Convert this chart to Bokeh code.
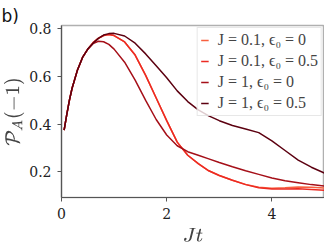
from bokeh.plotting import figure
from bokeh.models import Legend, LegendItem, Range1d, FixedTicker
from bokeh.embed import file_html
from bokeh.resources import INLINE

t = [0.05, 0.1, 0.15, 0.2, 0.3, 0.4, 0.5, 0.6, 0.7, 0.8, 0.9, 1.0, 1.2, 1.4, 1.6,
     1.8, 2.0, 2.2, 2.4, 2.6, 2.8, 3.0, 3.25, 3.5, 3.75, 4.0, 4.25, 4.5, 4.75, 5.0]

rise = [0.375, 0.44, 0.50, 0.55, 0.625, 0.68, 0.715]

j01_e0 = rise + [0.742, 0.760, 0.772, 0.776, 0.772, 0.745, 0.690, 0.605, 0.510, 0.415,
                 0.325, 0.270, 0.235, 0.205, 0.185, 0.165, 0.148, 0.136, 0.132, 0.134,
                 0.137, 0.136, 0.133]
j01_e05 = rise + [0.742, 0.760, 0.772, 0.776, 0.772, 0.745, 0.690, 0.605, 0.510, 0.415,
                  0.325, 0.270, 0.235, 0.205, 0.185, 0.165, 0.147, 0.134, 0.129, 0.129,
                  0.130, 0.127, 0.123]
j1_e0 = rise + [0.738, 0.748, 0.746, 0.735, 0.715, 0.660, 0.585, 0.500, 0.420, 0.355,
                0.310, 0.285, 0.270, 0.255, 0.240, 0.222, 0.205, 0.190, 0.175, 0.163,
                0.155, 0.147, 0.141]
j1_e05 = rise + [0.740, 0.760, 0.774, 0.780, 0.781, 0.770, 0.740, 0.695, 0.645, 0.595,
                 0.540, 0.495, 0.460, 0.435, 0.415, 0.395, 0.380, 0.365, 0.330, 0.290,
                 0.250, 0.220, 0.195]

labels = ["J = 0.1, ϵ₀ = 0", "J = 0.1, ϵ₀ = 0.5", "J = 1, ϵ₀ = 0", "J = 1, ϵ₀ = 0.5"]
colors = ["#f8603f", "#ec2a22", "#a50f18", "#5c0010"]
series = [j01_e0, j01_e05, j1_e0, j1_e05]

x_ticks = [0, 2, 4]
y_ticks = [0.2, 0.4, 0.6, 0.8]

p = figure(width=324, height=249, output_backend="svg", toolbar_location=None,
           x_range=Range1d(0, 5.0), y_range=Range1d(0.093, 0.814),
           min_border_left=60, min_border_right=0, min_border_top=25,
           min_border_bottom=50)
p.grid.visible = False
p.background_fill_color = "white"
p.border_fill_color = "white"
p.outline_line_color = "#b0b0b0"
p.outline_line_width = 1.5

p.title.text = "b)"
p.title.align = "left"
p.title.offset = -60
p.title.standoff = 0
p.title.text_font = "DejaVu Sans"
p.title.text_font_size = "17px"
p.title.text_font_style = "normal"
p.title.text_color = "#111111"

items = []
for ys, c, lab in zip(series, colors, labels):
    r = p.line(t, ys, line_color=c, line_width=1.5)
    items.append(LegendItem(label=lab, renderers=[r]))

legend = Legend(items=items, location="top_right")
legend.label_text_font = "Liberation Serif"
legend.label_text_font_size = "16px"
legend.glyph_width = 8
legend.glyph_height = 16
legend.label_height = 16
legend.label_standoff = 9
legend.spacing = 3
legend.padding = 3
legend.margin = 2
legend.border_line_color = "#d0d0d0"
legend.border_line_width = 1
legend.background_fill_alpha = 0.8
p.add_layout(legend)

for ax in (p.xaxis, p.yaxis):
    ax.axis_line_color = "#555555"
    ax.axis_line_width = 1.2
    ax.major_tick_line_color = "#555555"
    ax.major_tick_out = 4
    ax.major_tick_in = 0
    ax.minor_tick_line_color = None
    ax.major_label_text_font = "DejaVu Serif"
    ax.major_label_text_font_size = "14px"
    ax.major_label_text_color = "#222222"

p.xaxis.ticker = FixedTicker(ticks=x_ticks)
p.yaxis.ticker = FixedTicker(ticks=y_ticks)
p.xaxis.major_label_standoff = 6
p.yaxis.major_label_standoff = 6
p.xaxis.axis_label = r"$$Jt$$"
p.yaxis.axis_label = r"$$\mathcal{P}_A(-1)$$"
p.xaxis.axis_label_text_font_size = "17px"
p.yaxis.axis_label_text_font_size = "17px"
p.xaxis.axis_label_standoff = 6
p.yaxis.axis_label_standoff = 2

open("out.html", "w").write(file_html(p, INLINE))
